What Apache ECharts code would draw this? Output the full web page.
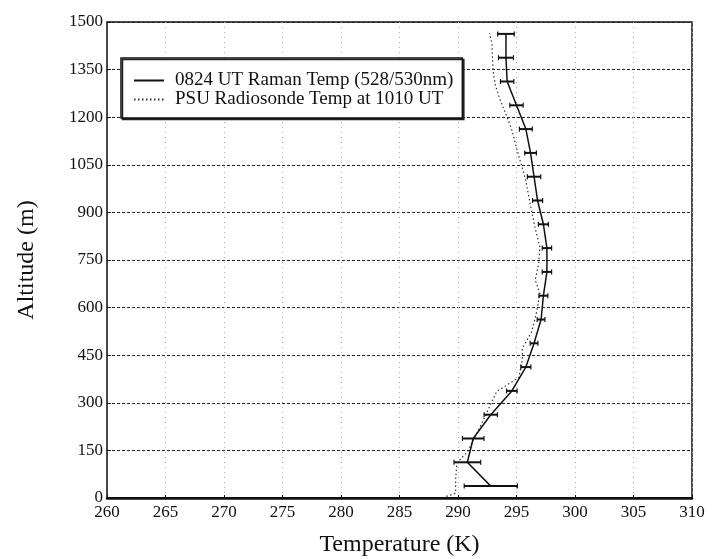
<!DOCTYPE html>
<html>
<head>
<meta charset="utf-8">
<script src="https://cdn.jsdelivr.net/npm/echarts@6/dist/echarts.min.js"></script>
<style>
html,body{margin:0;padding:0;background:#fff;}
#chart{width:717px;height:559px;}
</style>
</head>
<body>
<div id="chart"></div>
<script>
// Raman lidar temperature profile (altitude m, temperature K, half error K)
var ramanAlt  = [37.5, 112.5, 187.5, 262.5, 337.5, 412.5, 487.5, 562.5, 637.5, 712.5, 787.5, 862.5, 937.5, 1012.5, 1087.5, 1162.5, 1237.5, 1312.5, 1387.5, 1462.5];
var ramanTemp = [292.8, 290.8, 291.3, 292.8, 294.6, 295.8, 296.5, 297.1, 297.3, 297.6, 297.6, 297.3, 296.8, 296.5, 296.2, 295.8, 295.0, 294.2, 294.1, 294.1];
var ramanErr  = [2.27, 1.14, 0.92, 0.57, 0.45, 0.43, 0.33, 0.33, 0.38, 0.4, 0.4, 0.43, 0.43, 0.57, 0.5, 0.55, 0.57, 0.57, 0.64, 0.71];

// PSU radiosonde profile
var sondeAlt  = [5, 15, 60, 110, 145, 175, 225, 280, 335, 380, 435, 472, 524, 583, 645, 687, 740, 790, 850, 920, 1000, 1090, 1160, 1190, 1255, 1300, 1345, 1430, 1465];
var sondeTemp = [289.0, 289.8, 289.8, 289.9, 290.8, 291.2, 291.9, 292.6, 293.3, 295.2, 295.5, 295.5, 296.3, 296.7, 297.0, 296.6, 296.9, 297.0, 296.6, 296.2, 295.8, 295.1, 294.6, 294.3, 293.6, 293.2, 293.0, 292.9, 292.7];

var seriesNames = ['0824 UT Raman Temp (528/530nm)', 'PSU Radiosonde Temp at 1010 UT'];
var xTitle = 'Temperature (K)';
var yTitle = 'Altitude (m)';

var FONT = "'Liberation Serif', 'Times New Roman', serif";

var ramanLine = ramanAlt.map(function (a, i) { return [ramanTemp[i], a]; });
var ramanBars = ramanAlt.map(function (a, i) { return [ramanTemp[i] - ramanErr[i], ramanTemp[i] + ramanErr[i], a]; });
var sondeLine = sondeAlt.map(function (a, i) { return [sondeTemp[i], a]; });

var chart = echarts.init(document.getElementById('chart'), null, {renderer: 'canvas'});
chart.setOption({
  animation: false,
  backgroundColor: '#fff',
  grid: {left: 107, right: 25, top: 22, bottom: 61, show: true, borderColor: '#111', borderWidth: 1.5, outerBoundsMode: 'none', containLabel: false},
  legend: {
    orient: 'vertical',
    left: 121, top: 58,
    data: seriesNames,
    itemWidth: 30, itemHeight: 10, itemGap: 0,
    padding: [13, 9, 9, 12],
    borderColor: '#111', borderWidth: 1.5,
    backgroundColor: '#fff',
    shadowColor: '#222', shadowOffsetX: 1.5, shadowOffsetY: 1.5, shadowBlur: 0,
    itemStyle: {opacity: 0},
    textStyle: {fontFamily: FONT, fontSize: 19, color: '#111', padding: [0, 0, 0, 6]}
  },
  xAxis: [{
    type: 'value', min: 260, max: 310, interval: 5,
    name: xTitle, nameLocation: 'middle', nameGap: 35,
    nameTextStyle: {fontFamily: FONT, fontSize: 24, color: '#111'},
    axisLine: {onZero: false, lineStyle: {color: '#111', width: 2}},
    axisTick: {inside: true, length: 3, lineStyle: {color: '#111'}},
    axisLabel: {fontFamily: FONT, fontSize: 17, color: '#111', margin: 6},
    splitLine: {show: true, lineStyle: {color: '#aaa', type: [1, 4], width: 1}}
  }, {
    type: 'value', min: 260, max: 310, position: 'top',
    axisLine: {show: true, lineStyle: {color: '#111', width: 2.5}},
    axisTick: {show: false}, axisLabel: {show: false}, splitLine: {show: false}
  }],
  yAxis: [{
    type: 'value', min: 0, max: 1500, interval: 150,
    name: yTitle, nameLocation: 'middle', nameGap: 68, nameRotate: 90,
    nameTextStyle: {fontFamily: FONT, fontSize: 24, color: '#111'},
    axisLine: {onZero: false, lineStyle: {color: '#444', width: 1}},
    axisTick: {inside: true, length: 4, lineStyle: {color: '#111'}},
    axisLabel: {fontFamily: FONT, fontSize: 17, color: '#111', margin: 4, formatter: function (v) { return String(v); }},
    splitLine: {show: true, lineStyle: {color: '#222', type: [3, 2], width: 1}}
  }],
  series: [{
    name: seriesNames[0], type: 'line', data: ramanLine,
    symbol: 'none', lineStyle: {color: '#111', width: 1.5}, itemStyle: {color: '#111'}, z: 5
  }, {
    name: seriesNames[1], type: 'line', data: sondeLine,
    symbol: 'none', lineStyle: {color: '#333', width: 1.2, type: [1.5, 2.5]}, itemStyle: {color: '#333'}, z: 4
  }, {
    name: 'errbars', type: 'custom', data: ramanBars, z: 6,
    encode: {x: [0, 1], y: 2},
    renderItem: function (params, api) {
      var y = api.value(2);
      var p1 = api.coord([api.value(0), y]);
      var p2 = api.coord([api.value(1), y]);
      var h = 2.5;
      var st = {stroke: '#111', lineWidth: 2};
      return {type: 'group', children: [
        {type: 'line', shape: {x1: p1[0], y1: p1[1], x2: p2[0], y2: p2[1]}, style: st},
        {type: 'line', shape: {x1: p1[0], y1: p1[1] - h, x2: p1[0], y2: p1[1] + h}, style: {stroke: '#111', lineWidth: 1.2}},
        {type: 'line', shape: {x1: p2[0], y1: p2[1] - h, x2: p2[0], y2: p2[1] + h}, style: {stroke: '#111', lineWidth: 1.2}}
      ]};
    }
  }]
});
</script>
</body>
</html>
